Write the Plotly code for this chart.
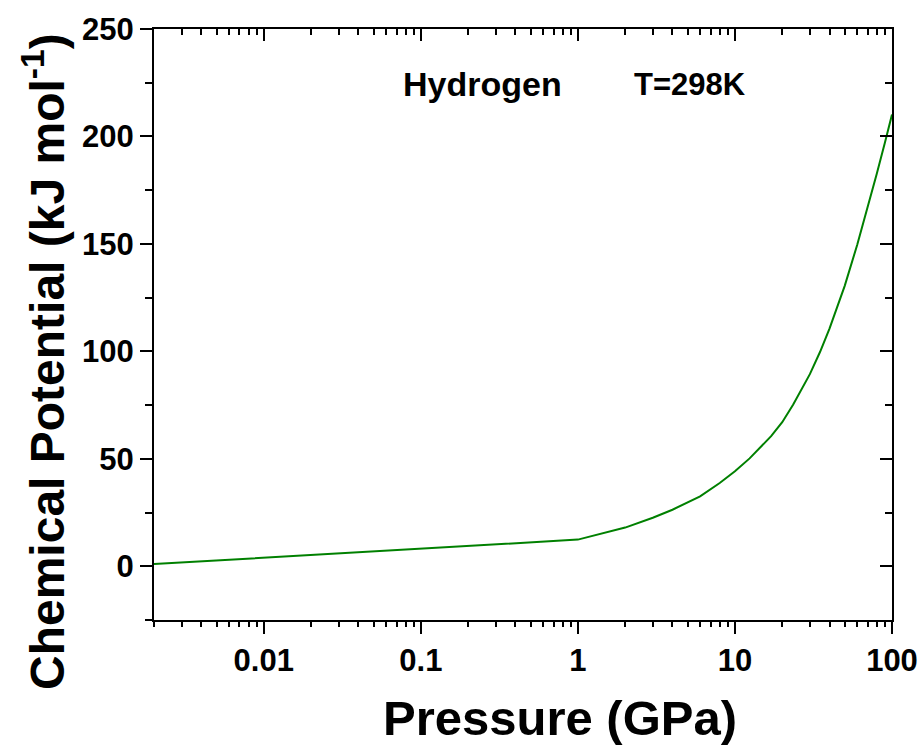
import plotly.graph_objects as go

pressure = [0.002, 0.01, 0.1, 1, 2, 3, 4, 5, 6, 8, 10, 12.4, 15, 17, 20, 23.5, 30, 34.8, 40, 50, 60, 70, 80, 90, 100]
potential = [1.0, 3.95, 8.2, 12.4, 18.0, 22.6, 26.3, 29.5, 32.5, 38.75, 44.2, 50.2, 56.2, 60.55, 67.05, 75.3, 89.4, 99.7, 110.6, 130.5, 149.5, 166.9, 182.6, 196.9, 210.2]

FONT = "Liberation Sans"
TXT = "#000000"
LINE = "#008000"

fig = go.Figure()
fig.add_trace(go.Scatter(x=pressure, y=potential, mode="lines",
                         line=dict(color=LINE, width=2), showlegend=False,
                         hoverinfo="skip"))
fig.add_trace(go.Scatter(x=pressure, y=potential, mode="lines", xaxis="x2", yaxis="y2",
                         line=dict(color="rgba(0,0,0,0)", width=0), showlegend=False,
                         hoverinfo="skip"))

xr = [-2.69897, 2.0]
yr = [-25, 250]

L, R, T, B = 154, 892, 29, 620
W, H = 924, 745
pw, ph = R - L, B - T

def px(x):
    return (x - L) / pw

def py(y):
    return (B - y) / ph

fig.update_layout(
    width=W, height=H,
    margin=dict(l=L, r=W - R, t=T, b=H - B, autoexpand=False),
    paper_bgcolor="white", plot_bgcolor="white",
    font=dict(family=FONT, color=TXT),
    xaxis=dict(type="log", range=xr, tickmode="linear", tick0=0, dtick=1, automargin=False,
               ticks="outside", ticklen=12, tickwidth=2, tickcolor="black",
               showline=True, linecolor="black", linewidth=2,
               showgrid=False, zeroline=False,
               minor=dict(ticks="outside", ticklen=5, tickwidth=2, tickcolor="black", dtick="D1", showgrid=False),
               tickfont=dict(family=FONT, size=31, color=TXT, weight="bold")),
    xaxis2=dict(type="log", range=xr, overlaying="x", side="top", anchor="y", automargin=False,
                tickmode="linear", tick0=0, dtick=1,
                ticks="inside", ticklen=12, tickwidth=2, tickcolor="black",
                showline=True, linecolor="black", linewidth=2, showticklabels=False,
                showgrid=False, zeroline=False,
                minor=dict(ticks="inside", ticklen=6, tickwidth=2, tickcolor="black", dtick="D1", showgrid=False)),
    yaxis=dict(range=yr, tickmode="linear", tick0=0, dtick=50, automargin=False,
               ticks="outside", ticklen=12, tickwidth=2, tickcolor="black",
               showline=True, linecolor="black", linewidth=2,
               showgrid=False, zeroline=False,
               minor=dict(ticks="outside", ticklen=7, tickwidth=2, tickcolor="black", dtick=25, showgrid=False),
               tickfont=dict(family=FONT, size=31, color=TXT, weight="bold")),
    yaxis2=dict(range=yr, overlaying="y", side="right", anchor="x", automargin=False,
                tickmode="linear", tick0=0, dtick=50,
                ticks="inside", ticklen=12, tickwidth=2, tickcolor="black",
                showline=True, linecolor="black", linewidth=2, showticklabels=False,
                showgrid=False, zeroline=False,
                minor=dict(ticks="inside", ticklen=7, tickwidth=2, tickcolor="black", dtick=25, showgrid=False)),
    annotations=[
        dict(text="<b>Hydrogen</b>", xref="paper", yref="paper", x=px(482), y=py(84),
             showarrow=False, font=dict(family=FONT, size=34, color=TXT), xanchor="center", yanchor="middle"),
        dict(text="<b>T=298K</b>", xref="paper", yref="paper", x=px(690), y=py(84),
             showarrow=False, font=dict(family=FONT, size=31, color=TXT), xanchor="center", yanchor="middle"),
        dict(text="<b>Pressure (GPa)</b>", xref="paper", yref="paper", x=px(560), y=py(718),
             showarrow=False, font=dict(family=FONT, size=49, color=TXT), xanchor="center", yanchor="middle"),
        dict(text="<b>Chemical Potential (kJ mol<sup>-1</sup>)</b>", xref="paper", yref="paper",
             x=px(44), y=py(362), textangle=-90,
             showarrow=False, font=dict(family=FONT, size=48, color=TXT), xanchor="center", yanchor="middle"),
    ],
)

fig.write_html("out.html")
